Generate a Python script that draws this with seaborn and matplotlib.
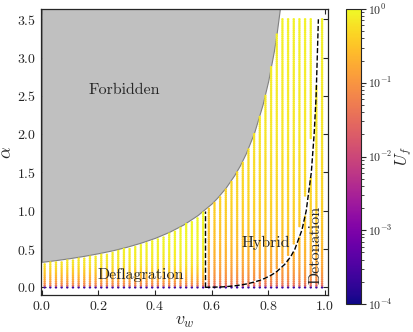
import numpy as np
import pandas as pd
import matplotlib
matplotlib.use('Agg')
import matplotlib.pyplot as plt
from matplotlib.colors import LogNorm
import seaborn as sns

# wall velocities and strengths of the scanned grid
v_cols = [0.01, 0.03, 0.05, 0.07, 0.09, 0.11, 0.13, 0.15, 0.17, 0.19,
          0.21, 0.23, 0.25, 0.27, 0.29, 0.31, 0.33, 0.35, 0.37, 0.39,
          0.41, 0.43, 0.45, 0.47, 0.49, 0.51, 0.53, 0.55, 0.57, 0.59,
          0.61, 0.63, 0.65, 0.67, 0.69, 0.71, 0.73, 0.75, 0.77, 0.79,
          0.81, 0.83, 0.85, 0.87, 0.89, 0.91, 0.93, 0.95, 0.97, 0.99]
alpha_step = 0.025
alpha_top = 3.5

alpha_read = [0.0, 0.025, 0.05, 0.1, 0.2, 0.3, 0.5, 1.0, 2.0, 3.5]
uf_defl = [2.5e-4, 0.04, 0.08, 0.16, 0.35, 0.6, 0.85, 1.0, 1.0, 1.0]
uf_hyb = [2.5e-4, 0.025, 0.045, 0.075, 0.12, 0.16, 0.24, 0.4, 0.65, 0.85]

# edge of the forbidden region
v_bound = [0.0, 0.05, 0.1, 0.15, 0.2, 0.25, 0.3, 0.35, 0.4, 0.45, 0.5, 0.55,
           0.6, 0.62, 0.65, 0.68, 0.7, 0.72, 0.75, 0.78, 0.8, 0.82, 0.83,
           0.84, 0.85, 0.86]
a_bound = [0.333, 0.356, 0.382, 0.412, 0.446, 0.484, 0.530, 0.584, 0.647,
           0.725, 0.821, 0.943, 1.096, 1.173, 1.305, 1.466, 1.594, 1.745,
           2.02, 2.39, 2.70, 3.09, 3.33, 3.61, 3.93, 4.2]

# Jouguet velocity curve
a_jouguet = [0.0, 0.005, 0.01, 0.02, 0.035, 0.05, 0.075, 0.1, 0.15, 0.2, 0.3,
             0.4, 0.5, 0.75, 1.0, 1.5, 2.0, 2.5, 3.0, 3.5]
v_jouguet = [0.577, 0.632, 0.653, 0.681, 0.710, 0.730, 0.756, 0.777, 0.806,
             0.828, 0.858, 0.879, 0.894, 0.919, 0.934, 0.952, 0.962, 0.969,
             0.973, 0.977]
c_s = 0.577

sns.set_style('ticks')
plt.rcParams['font.family'] = ['cmr10', 'DejaVu Serif']
plt.rcParams['mathtext.fontset'] = 'cm'
plt.rcParams['axes.formatter.use_mathtext'] = True
plt.rcParams['axes.unicode_minus'] = False

rows = []
for v in v_cols:
    a_max = np.interp(v, v_bound, a_bound)
    for a in np.arange(0, alpha_top + 1e-9, alpha_step):
        if a > a_max - 0.02:
            continue
        vj = np.interp(a, a_jouguet, v_jouguet)
        if 0 < vj - v < 0.011 and a > 0:
            continue
        prof = uf_defl if v < c_s else uf_hyb
        uf = 10 ** np.interp(a, alpha_read, np.log10(prof))
        rows.append((v, a, uf))
df = pd.DataFrame(rows, columns=['v_w', 'alpha', 'U_f'])

fig = plt.figure(figsize=(4.13, 3.32), dpi=100)
ax = fig.add_axes([0.0985, 0.1114, 0.6964, 0.8605])
cax = fig.add_axes([0.8366, 0.0843, 0.0363, 0.8886])

norm = LogNorm(vmin=1e-4, vmax=1)
ax.fill_between(v_bound, a_bound, 4.5, color='#c0c0c0', edgecolor='#808080',
                linewidth=0.8, zorder=1)
sns.scatterplot(data=df, x='v_w', y='alpha', hue='U_f', hue_norm=norm,
                palette='plasma', s=3.2, linewidth=0, legend=False, ax=ax,
                zorder=2)

a_cs = np.interp(c_s, v_bound, a_bound)
ax.plot([c_s, c_s], [0, a_cs - 0.03], color='k', ls='--', lw=1, zorder=3)
ax.plot(v_jouguet, a_jouguet, color='k', ls='--', lw=1, zorder=3)

ax.text(0.29, 2.57, 'Forbidden', ha='center', va='center', fontsize=11.5)
ax.text(0.35, 0.16, 'Deflagration', ha='center', va='center', fontsize=11.5)
ax.text(0.79, 0.58, 'Hybrid', ha='center', va='center', fontsize=11.5)
ax.text(0.968, 0.55, 'Detonation', ha='center', va='center', fontsize=11.5,
        rotation=90)

ax.set_xlim(-0.004, 1.012)
ax.set_ylim(-0.1, 3.63)
ax.set_xticks([0.0, 0.2, 0.4, 0.6, 0.8, 1.0])
ax.set_yticks([0.0, 0.5, 1.0, 1.5, 2.0, 2.5, 3.0, 3.5])
ax.tick_params(direction='in', top=True, right=True, labelsize=10,
               length=3.5, width=0.8)
ax.set_xlabel(r'$v_w$', fontsize=13, labelpad=1)
ax.set_ylabel(r'$\alpha$', fontsize=13, labelpad=2)
for sp in ax.spines.values():
    sp.set_linewidth(0.9)

sm = plt.cm.ScalarMappable(norm=norm, cmap='plasma')
cb = fig.colorbar(sm, cax=cax)
cb.ax.tick_params(labelsize=8.5, direction='out', pad=2)
cb.set_label(r'$U_f$', fontsize=12, labelpad=0.5)

fig.savefig('out.png', dpi=100)
